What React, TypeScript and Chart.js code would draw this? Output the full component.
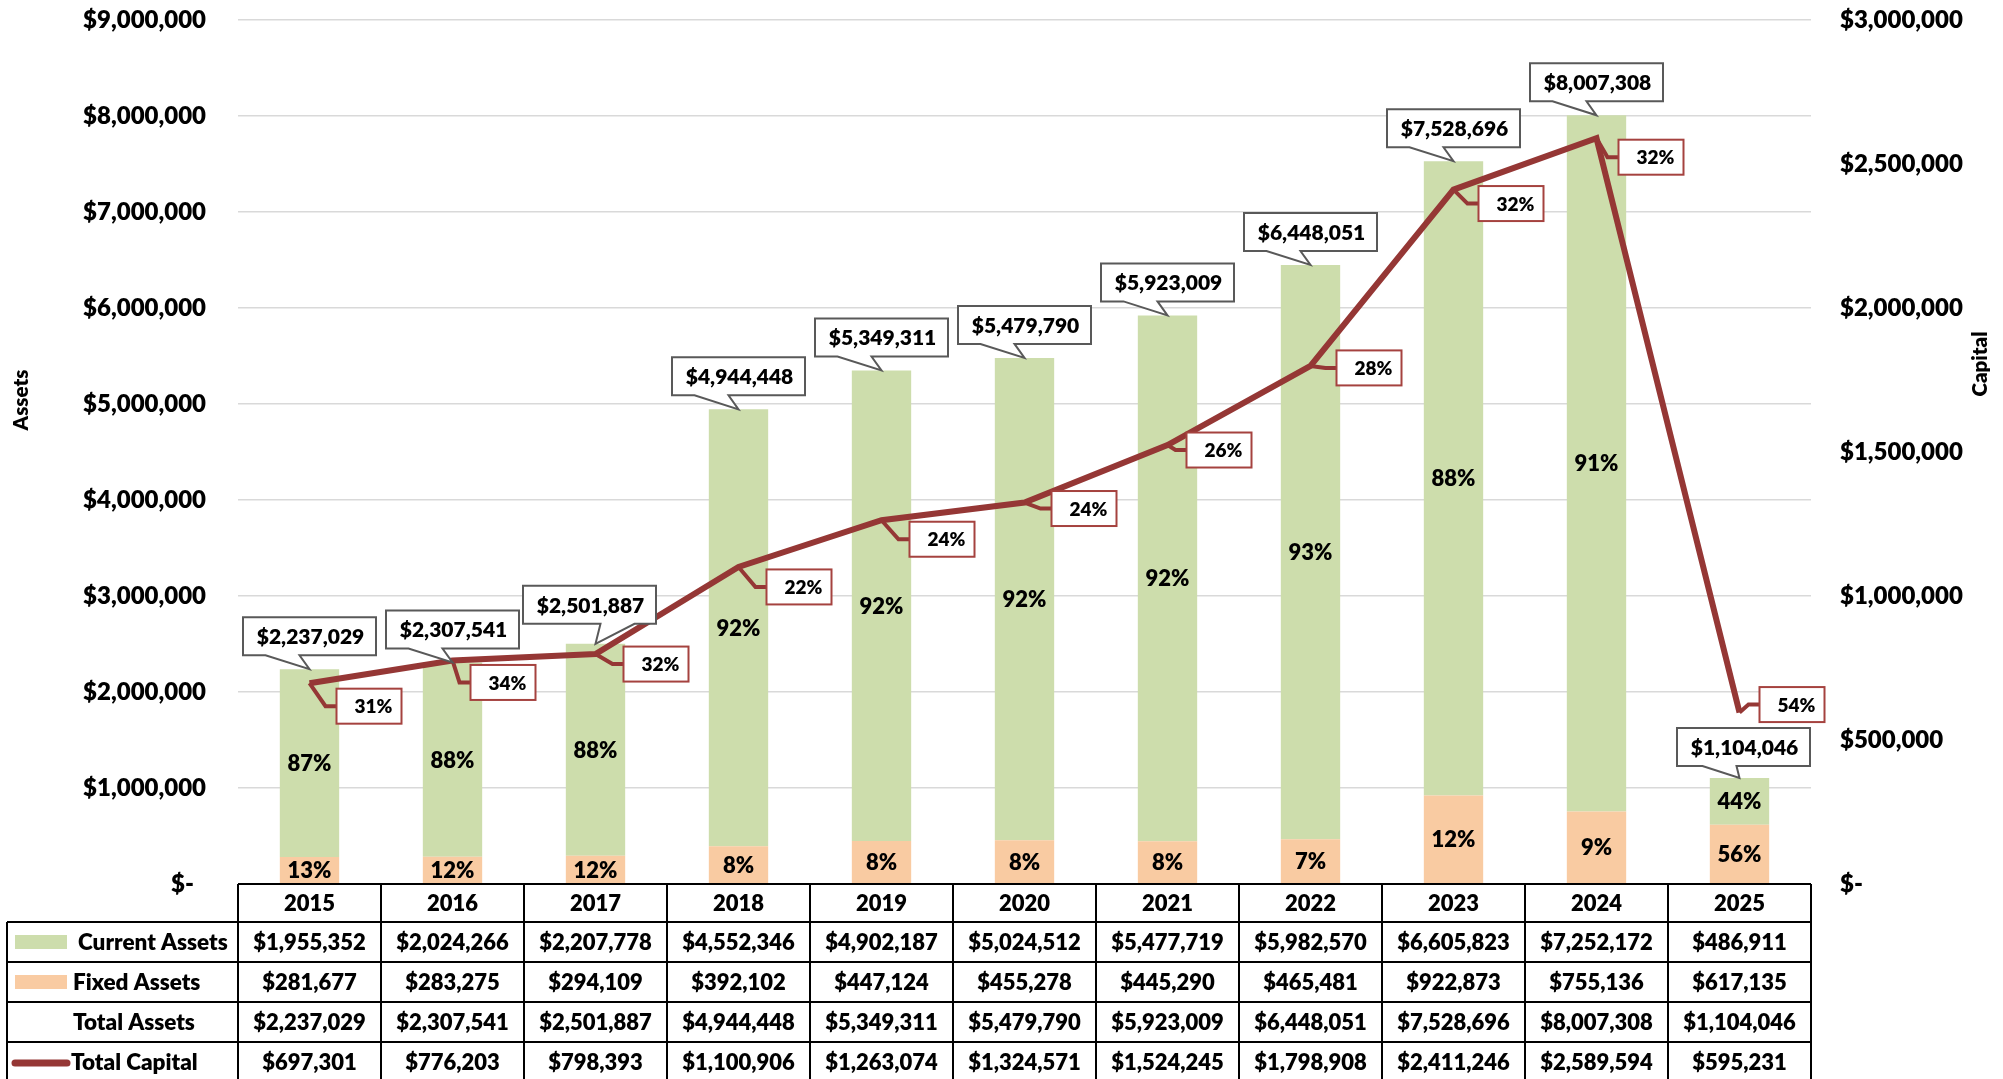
import React, { useEffect, useRef } from 'react';
import { Chart, registerables } from 'chart.js';

Chart.register(...registerables);

// ---------- data ----------
const years = ['2015', '2016', '2017', '2018', '2019', '2020', '2021', '2022', '2023', '2024', '2025'];
const currentAssets = [1955352, 2024266, 2207778, 4552346, 4902187, 5024512, 5477719, 5982570, 6605823, 7252172, 486911];
const fixedAssets = [281677, 283275, 294109, 392102, 447124, 455278, 445290, 465481, 922873, 755136, 617135];
const totalAssets = [2237029, 2307541, 2501887, 4944448, 5349311, 5479790, 5923009, 6448051, 7528696, 8007308, 1104046];
const totalCapital = [697301, 776203, 798393, 1100906, 1263074, 1324571, 1524245, 1798908, 2411246, 2589594, 595231];
const currentPctLabels = ['87%', '88%', '88%', '92%', '92%', '92%', '92%', '93%', '88%', '91%', '44%'];
const fixedPctLabels = ['13%', '12%', '12%', '8%', '8%', '8%', '8%', '7%', '12%', '9%', '56%'];
const capitalPctLabels = ['31%', '34%', '32%', '22%', '24%', '24%', '26%', '28%', '32%', '32%', '54%'];
const tableRowLabels = ['Current Assets', 'Fixed Assets', 'Total Assets', 'Total Capital'];

// ---------- label layout (placement only) ----------
const capBoxDx = [27, 18, 28, 28, 28, 27, 19, 26, 25, 22, 20];
const capBoxDy = [23, 22, 10, 20, 19, 6, 5, 2, 14, 19, -8];
const totBoxDx = [0, 0, -6, 0, 0, 0, 0, 0, 0, 0, 4];
const totBoxDy = [0, 0, -6, 0, 0, 0, 0, 0, 0, 0, 2];
const totPtrStart = [-44, -44, 5, -44, -44, -44, -44, -44, -44, -44, -37];

const GREEN = '#CDDDAC';
const ORANGE = '#F9CBA2';
const RED = '#953735';
const FONT = 'Lato';
const W = 800;

const fmt = (v: number) => '$' + Math.round(v).toString().replace(/\B(?=(\d{3})+(?!\d))/g, ',');

const overlayPlugin = {
  id: 'overlay',
  afterDatasetsDraw(chart: any) {
    const ctx: CanvasRenderingContext2D = chart.ctx;
    const yS = chart.scales.y;
    const fixedMeta = chart.getDatasetMeta(0);
    const curMeta = chart.getDatasetMeta(1);
    const lineMeta = chart.getDatasetMeta(2);
    ctx.save();
    ctx.textBaseline = 'middle';
    ctx.fillStyle = '#000';

    // percentages in bars
    ctx.font = `${W} 22px ${FONT}`;
    ctx.textAlign = 'center';
    years.forEach((_, i) => {
      const f = fixedMeta.data[i];
      const c = curMeta.data[i];
      ctx.fillStyle = '#000';
      ctx.fillText(fixedPctLabels[i], f.x, (f.y + f.base) / 2 + 1);
      ctx.fillText(currentPctLabels[i], c.x, (c.y + c.base) / 2 + 1);
    });

    // capital % callouts
    years.forEach((_, i) => {
      const p = lineMeta.data[i];
      const bl = p.x + capBoxDx[i];
      const mid = p.y + capBoxDy[i];
      const w = 65, h = 35;
      ctx.strokeStyle = RED;
      ctx.lineWidth = 4;
      ctx.lineJoin = 'miter';
      ctx.beginPath();
      ctx.moveTo(p.x, p.y);
      ctx.lineTo(bl - 11, mid);
      ctx.lineTo(bl, mid);
      ctx.stroke();
      ctx.fillStyle = '#fff';
      ctx.fillRect(bl, mid - h / 2, w, h);
      ctx.strokeStyle = '#A5423F';
      ctx.lineWidth = 2;
      ctx.strokeRect(bl, mid - h / 2, w, h);
      ctx.fillStyle = '#000';
      ctx.font = `${W} 19px ${FONT}`;
      ctx.textAlign = 'right';
      ctx.fillText(capitalPctLabels[i], bl + w - 9, mid + 1);
    });

    // total assets callouts
    years.forEach((_, i) => {
      const tipX = curMeta.data[i].x;
      const tipY = yS.getPixelForValue(totalAssets[i]);
      const w = 133, h = 38;
      const cx = tipX + totBoxDx[i];
      const bottom = tipY - 14 + totBoxDy[i];
      const top = bottom - h;
      const left = cx - w / 2, right = cx + w / 2;
      const b0 = tipX + totPtrStart[i];
      const b1 = b0 + 34;
      ctx.beginPath();
      ctx.moveTo(left, top);
      ctx.lineTo(right, top);
      ctx.lineTo(right, bottom);
      ctx.lineTo(b1, bottom);
      ctx.lineTo(tipX, tipY);
      ctx.lineTo(b0, bottom);
      ctx.lineTo(left, bottom);
      ctx.closePath();
      ctx.fillStyle = '#fff';
      ctx.fill();
      ctx.strokeStyle = '#595959';
      ctx.lineWidth = 2;
      ctx.lineJoin = 'miter';
      ctx.stroke();
      ctx.fillStyle = '#000';
      ctx.font = `${W} 21px ${FONT}`;
      ctx.textAlign = 'center';
      ctx.fillText(fmt(totalAssets[i]), cx + 1, (top + bottom) / 2 + 1);
    });
    ctx.restore();
  },
  afterDraw(chart: any) {
    const ctx: CanvasRenderingContext2D = chart.ctx;
    const area = chart.chartArea;
    const xS = chart.scales.x;
    const n = years.length;
    const catW = (area.right - area.left) / n;
    const top = area.bottom;
    const headH = 38;
    const rowH = 40;
    const labelLeft = 7;
    ctx.save();
    ctx.strokeStyle = '#000';
    ctx.lineWidth = 2;
    ctx.beginPath();
    ctx.moveTo(area.left, top);
    ctx.lineTo(area.right, top);
    for (let r = 0; r <= 4; r++) {
      const yy = top + headH + r * rowH;
      ctx.moveTo(labelLeft, yy);
      ctx.lineTo(area.right, yy);
    }
    ctx.moveTo(labelLeft, top + headH);
    ctx.lineTo(labelLeft, top + headH + 4 * rowH);
    for (let i = 0; i <= n; i++) {
      const xx = area.left + i * catW;
      ctx.moveTo(xx, top);
      ctx.lineTo(xx, top + headH + 4 * rowH);
    }
    ctx.stroke();

    ctx.fillStyle = '#000';
    ctx.textBaseline = 'middle';
    ctx.textAlign = 'center';
    ctx.font = `${W} 22px ${FONT}`;
    const rows = [currentAssets, fixedAssets, totalAssets, totalCapital];
    years.forEach((yr, i) => {
      const cx = xS.getPixelForValue(i);
      ctx.fillText(yr, cx, top + headH / 2 + 1);
      rows.forEach((arr, r) => {
        ctx.fillText(fmt(arr[i]), cx, top + headH + r * rowH + rowH / 2 + 1);
      });
    });

    const rc = (r: number) => top + headH + r * rowH + rowH / 2;
    ctx.fillStyle = GREEN;
    ctx.fillRect(15, rc(0) - 7, 52, 14);
    ctx.fillStyle = ORANGE;
    ctx.fillRect(15, rc(1) - 7, 52, 14);
    ctx.strokeStyle = RED;
    ctx.lineWidth = 7;
    ctx.lineCap = 'round';
    ctx.beginPath();
    ctx.moveTo(15, rc(3) + 1);
    ctx.lineTo(67, rc(3) + 1);
    ctx.stroke();
    ctx.lineCap = 'butt';
    ctx.fillStyle = '#000';
    ctx.textAlign = 'left';
    ctx.font = `${W} 22.5px ${FONT}`;
    const lx = [78, 73, 73, 71];
    tableRowLabels.forEach((t, r) => ctx.fillText(t, lx[r], rc(r) + 1));

    ctx.font = `${W} 20.5px ${FONT}`;
    ctx.textAlign = 'center';
    ctx.save();
    ctx.translate(21, 400);
    ctx.rotate(-Math.PI / 2);
    ctx.fillText('Assets', 0, 0);
    ctx.restore();
    ctx.save();
    ctx.translate(1980, 364);
    ctx.rotate(-Math.PI / 2);
    ctx.fillText('Capital', 0, 0);
    ctx.restore();
    ctx.restore();
  },
};

export default function App() {
  const ref = useRef<HTMLCanvasElement | null>(null);
  useEffect(() => {
    if (!ref.current) return;
    const tickFont = { family: FONT, size: 24, weight: W as any };
    const chart = new Chart(ref.current, {
      type: 'bar',
      data: {
        labels: years,
        datasets: [
          {
            type: 'bar',
            label: 'Fixed Assets',
            data: fixedAssets,
            backgroundColor: ORANGE,
            barPercentage: 0.415,
            categoryPercentage: 1,
            order: 1,
            yAxisID: 'y',
          },
          {
            type: 'bar',
            label: 'Current Assets',
            data: currentAssets,
            backgroundColor: GREEN,
            barPercentage: 0.415,
            categoryPercentage: 1,
            order: 2,
            yAxisID: 'y',
          },
          {
            type: 'line',
            label: 'Total Capital',
            data: totalCapital,
            borderColor: RED,
            backgroundColor: RED,
            borderWidth: 6,
            pointRadius: 0,
            tension: 0,
            fill: false,
            order: 0,
            yAxisID: 'y1',
          } as any,
        ],
      },
      options: {
        responsive: false,
        animation: false,
        devicePixelRatio: 1,
        layout: { padding: { left: 0, right: 0, top: 20, bottom: 195 } },
        plugins: { legend: { display: false }, tooltip: { enabled: false }, title: { display: false } },
        scales: {
          x: { stacked: true, display: false, offset: true },
          y: {
            stacked: true,
            position: 'left',
            min: 0,
            max: 9000000,
            ticks: {
              stepSize: 1000000,
              padding: 32,
              color: '#000',
              font: tickFont,
              callback: (v: any) => (Number(v) === 0 ? '$-\u2002' : fmt(Number(v))),
            },
            grid: { color: '#D9D9D9', lineWidth: 1.5, drawTicks: false },
            border: { display: false },
            afterFit: (s: any) => {
              s.width = 238;
              s.paddingTop = 0;
              s.paddingBottom = 0;
            },
          },
          y1: {
            position: 'right',
            min: 0,
            max: 3000000,
            ticks: {
              stepSize: 500000,
              padding: 29,
              color: '#000',
              font: tickFont,
              callback: (v: any) => (Number(v) === 0 ? '$-' : fmt(Number(v))),
            },
            grid: { display: false, drawTicks: false },
            border: { display: false },
            afterFit: (s: any) => {
              s.width = 192;
              s.paddingTop = 0;
              s.paddingBottom = 0;
            },
          },
        },
      } as any,
      plugins: [overlayPlugin],
    });
    return () => chart.destroy();
  }, []);
  return (
    <div style={{ position: 'absolute', left: 0, top: 0, width: 2003, height: 1079, background: '#fff' }}>
      <canvas ref={ref} width={2003} height={1079} style={{ display: 'block' }} />
    </div>
  );
}
